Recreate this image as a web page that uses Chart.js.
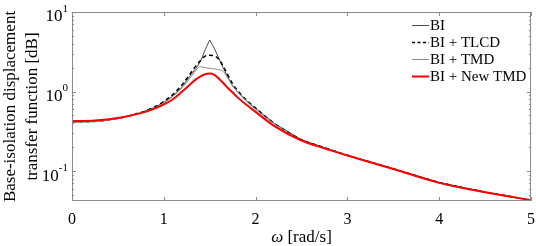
<!DOCTYPE html>
<html>
<head>
<meta charset="utf-8">
<script src="https://cdn.jsdelivr.net/npm/chart.js@4.4.1/dist/chart.umd.min.js"></script>
<style>
  html, body { margin: 0; padding: 0; background: #fff; }
  canvas { display: block; }
</style>
</head>
<body>
<canvas id="chart" width="536" height="246"></canvas>
<script>
// Frequências (rad/s)
const omega = [0, 0.25, 0.5, 0.75, 0.9, 1.0, 1.1, 1.2, 1.3, 1.35, 1.4, 1.45, 1.5, 1.55, 1.6, 1.65, 1.7, 1.75, 1.8, 1.9, 2.0, 2.2, 2.5, 2.75, 3.0, 3.5, 4.0, 4.5, 5.0];

// Valores de cada curva (escala log)
const biValues = [0.415, 0.422, 0.46, 0.54, 0.63, 0.73, 0.88, 1.15, 1.65, 1.95, 2.4, 3.35, 4.45, 3.5, 2.6, 1.95, 1.5, 1.17, 1.0, 0.77, 0.61, 0.4, 0.248, 0.197, 0.158, 0.107, 0.072, 0.0545, 0.0432];
const tlcdValues = [0.415, 0.422, 0.46, 0.545, 0.64, 0.75, 0.92, 1.22, 1.75, 2.1, 2.45, 2.78, 2.85, 2.8, 2.55, 2.05, 1.6, 1.25, 1.04, 0.78, 0.62, 0.4, 0.248, 0.197, 0.158, 0.107, 0.072, 0.0545, 0.0432];
const tmdValues = [0.41, 0.418, 0.455, 0.535, 0.62, 0.72, 0.87, 1.12, 1.55, 1.85, 2.05, 2.0, 1.95, 1.93, 1.88, 1.78, 1.45, 1.18, 1.0, 0.76, 0.6, 0.395, 0.245, 0.195, 0.157, 0.106, 0.071, 0.054, 0.0428];
const newTmdValues = [0.425, 0.432, 0.465, 0.535, 0.61, 0.69, 0.8, 1.0, 1.27, 1.42, 1.55, 1.65, 1.68, 1.62, 1.45, 1.27, 1.1, 0.97, 0.85, 0.68, 0.555, 0.37, 0.242, 0.193, 0.157, 0.106, 0.071, 0.054, 0.043];

const seriesLabels = ['BI', 'BI + TLCD', 'BI + TMD', 'BI + New TMD'];
const xTickValues = [0, 1, 2, 3, 4, 5];
const yTickExponents = [-1, 0, 1];

const SERIF = "'Liberation Serif', 'Times New Roman', serif";
const FRAME = '#8a8a8a';

const toPoints = (values) => omega.map((w, i) => ({ x: w, y: values[i] }));

// Estilos das séries (mesma ordem de seriesLabels)
const styles = [
    { color: '#4a4a4a', width: 1, dash: [], tension: 0 },
    { color: '#000000', width: 1.5, dash: [4, 3], tension: 0.3 },
    { color: '#8c8c8c', width: 1, dash: [], tension: 0.3 },
    { color: '#ff0000', width: 2, dash: [], tension: 0.3 }
];
const seriesValues = [biValues, tlcdValues, tmdValues, newTmdValues];

const datasets = seriesLabels.map((label, i) => ({
    label: label,
    data: toPoints(seriesValues[i]),
    borderColor: styles[i].color,
    borderWidth: styles[i].width,
    borderDash: styles[i].dash,
    cubicInterpolationMode: styles[i].tension ? 'monotone' : 'default',
    tension: 0,
    pointRadius: 0,
    fill: false,
    order: 3 - i   // vermelho desenhado por cima
}));

// Moldura, marcas, rótulos do eixo y, título do eixo x e legenda
const framePlugin = {
    id: 'framePlugin',
    afterDraw(chart) {
        const { ctx, chartArea: a, scales: { x, y } } = chart;
        ctx.save();
        ctx.strokeStyle = FRAME;
        ctx.lineWidth = 1;
        ctx.strokeRect(a.left + 0.5, a.top + 0.5, a.right - a.left - 1, a.bottom - a.top - 1);

        ctx.beginPath();
        xTickValues.forEach(v => {
            const px = Math.round(x.getPixelForValue(v)) + 0.5;
            ctx.moveTo(px, a.bottom); ctx.lineTo(px, a.bottom - 4);
            ctx.moveTo(px, a.top); ctx.lineTo(px, a.top + 4);
        });
        for (let e = -2; e <= 1; e++) {
            for (let m = 1; m <= 9; m++) {
                const v = m * Math.pow(10, e);
                if (v < y.min || v > y.max) continue;
                const py = Math.round(y.getPixelForValue(v)) + 0.5;
                const len = m === 1 ? 4 : 2;
                ctx.moveTo(a.left, py); ctx.lineTo(a.left + len, py);
                ctx.moveTo(a.right, py); ctx.lineTo(a.right - len, py);
            }
        }
        ctx.stroke();

        // rótulos 10^n
        ctx.fillStyle = '#000';
        ctx.textBaseline = 'middle';
        yTickExponents.forEach(e => {
            const py = y.getPixelForValue(Math.pow(10, e));
            const expText = String(e);
            ctx.font = '11px ' + SERIF;
            ctx.textAlign = 'right';
            const w = ctx.measureText(expText).width;
            ctx.fillText(expText, 68, py - 3);
            ctx.font = '17px ' + SERIF;
            ctx.fillText('10', 68 - w, py + 5);
        });

        // título do eixo x com ω em itálico
        const cx = (a.left + a.right) / 2;
        ctx.font = 'italic 17px ' + SERIF;
        const wOmega = ctx.measureText('\u03c9').width;
        ctx.font = '17px ' + SERIF;
        const rest = ' [rad/s]';
        const wRest = ctx.measureText(rest).width;
        const startX = cx - (wOmega + wRest) / 2;
        ctx.textAlign = 'left';
        ctx.font = 'italic 17px ' + SERIF;
        ctx.fillText('\u03c9', startX, 238);
        ctx.font = '17px ' + SERIF;
        ctx.fillText(rest, startX + wOmega, 238);

        // legenda
        ctx.font = '15px ' + SERIF;
        seriesLabels.forEach((label, i) => {
            const ly = 25 + i * 17;
            ctx.beginPath();
            ctx.strokeStyle = styles[i].color;
            ctx.lineWidth = styles[i].width;
            ctx.setLineDash(styles[i].dash.length ? [3, 2.5] : []);
            ctx.moveTo(412, ly + 0.5); ctx.lineTo(429, ly + 0.5);
            ctx.stroke();
            ctx.setLineDash([]);
            ctx.fillStyle = '#000';
            ctx.fillText(label, 430, ly + 1);
        });
        ctx.restore();
    }
};

new Chart(document.getElementById('chart'), {
    type: 'line',
    data: { datasets: datasets },
    options: {
        responsive: false,
        animation: false,
        devicePixelRatio: 1,
        layout: { padding: { top: 12, right: 5, left: 0, bottom: 0 } },
        plugins: { legend: { display: false }, tooltip: { enabled: false } },
        scales: {
            x: {
                type: 'linear',
                min: 0, max: 5,
                grid: { display: false, drawTicks: false },
                border: { display: false },
                ticks: {
                    stepSize: 1, padding: 9, color: '#000',
                    font: { family: SERIF, size: 16 },
                    maxRotation: 0
                },
                afterFit: (scale) => {
                    scale.height = 45;
                    scale.paddingLeft = 0;
                    scale.paddingRight = 0;
                }
            },
            y: {
                type: 'logarithmic',
                min: 0.042, max: 10,
                grid: { display: false, drawTicks: false },
                border: { display: false },
                ticks: { display: false },
                title: {
                    display: true,
                    text: ['Base-isolation displacement', 'transfer function [dB]'],
                    color: '#000',
                    padding: { top: 0, bottom: 0 },
                    font: { family: SERIF, size: 17, lineHeight: '22px' }
                },
                afterFit: (scale) => { scale.width = 72; }
            }
        }
    },
    plugins: [framePlugin]
});
</script>
</body>
</html>
